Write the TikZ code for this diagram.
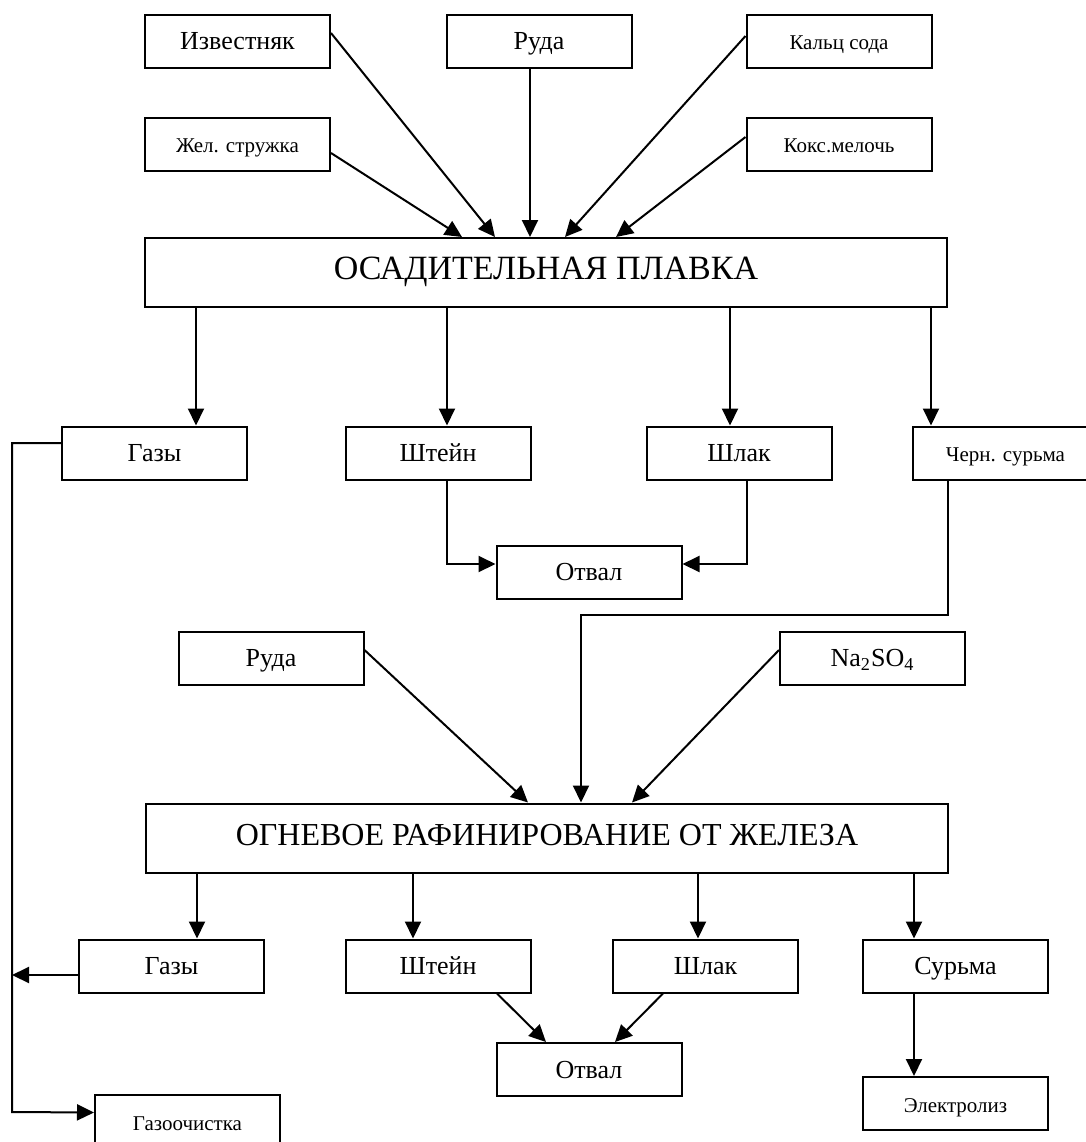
\documentclass[tikz,border=0pt]{standalone}
\usepackage{fontspec}
\setmainfont{Liberation Serif}
\usetikzlibrary{arrows.meta}

\tikzset{
  box/.style={draw, rectangle, line width=1pt, minimum width=92.5pt, minimum height=26.5pt,
    inner sep=1pt, text height=1.85ex, text depth=0pt, font=\fontsize{13}{15}\selectfont},
  smallbox/.style={box, font=\fontsize{10.5}{12}\selectfont},
  stage/.style={draw, rectangle, line width=1pt, minimum width=401pt, minimum height=34.5pt,
    text height=1.6ex, text depth=0pt, font=\fontsize{16}{19}\selectfont},
  arr/.style={line width=1pt, -{Triangle[length=8.5pt,width=8pt]}}
}

\begin{document}
\begin{tikzpicture}[x=0.5pt, y=-0.5pt]
\useasboundingbox (0,0) rectangle (1086,1142);

% inputs of the first stage
\node[box] (izv) at (237.5,41) {Известняк};
\node[box] (ruda1) at (539,41) {Руда};
\node[smallbox] (kalc) at (839,41) {Кальц сода};
\node[smallbox] (zhel) at (237.5,144) {Жел. стружка};
\node[smallbox] (koks) at (839,144) {Кокс.мелочь};

\node[stage, font=\fontsize{17}{20}\selectfont] (plavka) at (546,272.5) {ОСАДИТЕЛЬНАЯ ПЛАВКА};

% products of the first stage
\node[box] (gaz1) at (154.5,453) {Газы};
\node[box] (shtein1) at (438,453) {Штейн};
\node[box] (shlak1) at (739,453) {Шлак};
\node[smallbox] (chern) at (1005.5,453) {Черн. сурьма};
\node[box] (otval1) at (589,572) {Отвал};

% second stage
\node[box] (ruda2) at (271,658) {Руда};
\node[box] (na) at (872.5,658) {Na\textsubscript{2}SO\textsubscript{4}};
\node[stage] (rafin) at (547,838) {ОГНЕВОЕ РАФИНИРОВАНИЕ ОТ ЖЕЛЕЗА};

\node[box] (gaz2) at (171.5,966) {Газы};
\node[box] (shtein2) at (438,966) {Штейн};
\node[box] (shlak2) at (705.5,966) {Шлак};
\node[box] (surma) at (955.5,966) {Сурьма};
\node[box] (otval2) at (589,1069.5) {Отвал};
\node[smallbox] (gazoch) at (187.5,1121.5) {Газоочистка};
\node[smallbox] (elektr) at (955.5,1103.5) {Электролиз};

\coordinate (collect) at (12,1112);
\coordinate (turn) at (581,615);
\coordinate (g1out) at ([yshift=5pt]gaz1.west);
\coordinate (g2out) at ([yshift=-4.5pt]gaz2.west);

\draw[arr] ([yshift=4pt]izv.east) -- (plavka.north -| 495,0);
\draw[arr] ([yshift=-4.5pt]zhel.east) -- (plavka.north -| 462,0);
\draw[arr] (ruda1.south -| 530,0) -- (plavka.north -| 530,0);
\draw[arr] ([yshift=2.5pt]kalc.west) -- (plavka.north -| 565,0);
\draw[arr] ([yshift=3.5pt]koks.west) -- (plavka.north -| 616,0);

\draw[arr] (plavka.south -| 196,0) -- (gaz1.north -| 196,0);
\draw[arr] (plavka.south -| 447,0) -- (shtein1.north -| 447,0);
\draw[arr] (plavka.south -| 730,0) -- (shlak1.north -| 730,0);
\draw[arr] (plavka.south -| 931,0) -- (chern.north -| 931,0);

\draw[arr] (shtein1.south -| 447,0) |- ([yshift=4pt]otval1.west);
\draw[arr] (shlak1.south -| 747,0) |- ([yshift=4pt]otval1.east);

\draw[arr] (chern.south -| 948,0) |- (turn) -- (rafin.north -| turn);
\draw[arr] ([yshift=4pt]ruda2.east) -- (rafin.north -| 528,0);
\draw[arr] ([yshift=4pt]na.west) -- (rafin.north -| 632,0);

\draw[arr] (rafin.south -| 197,0) -- (gaz2.north -| 197,0);
\draw[arr] (rafin.south -| 413,0) -- (shtein2.north -| 413,0);
\draw[arr] (rafin.south -| 698,0) -- (shlak2.north -| 698,0);
\draw[arr] (rafin.south -| 914,0) -- (surma.north -| 914,0);

\draw[arr] (shtein2.south -| 497,0) -- (otval2.north -| 546,0);
\draw[arr] (shlak2.south -| 663,0) -- (otval2.north -| 615,0);
\draw[arr] (surma.south -| 914,0) -- (elektr.north -| 914,0);

% gas lines
\draw[arr] (g1out) -| (collect) -- ([yshift=4.5pt]gazoch.west);
\draw[arr] (g2out) -- (g2out -| collect);
\end{tikzpicture}
\end{document}
